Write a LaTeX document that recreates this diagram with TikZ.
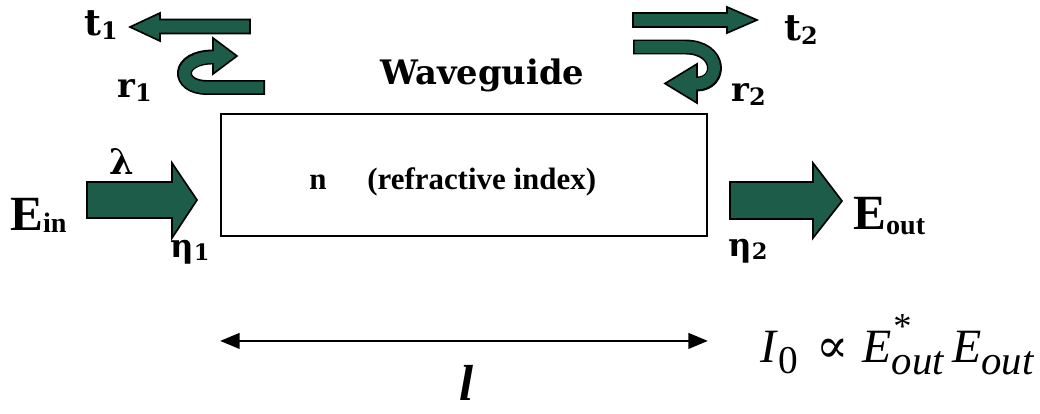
\documentclass[tikz,border=0pt]{standalone}
\usepackage{fontspec}
\setmainfont{Liberation Serif}
\newfontfamily\djv{DejaVu Serif}
\usetikzlibrary{arrows.meta}
\definecolor{wgreen}{RGB}{28,92,72}
\newcommand{\lowsub}[2]{\raisebox{-#1}{#2}}

\begin{document}
\begin{tikzpicture}[
    x=0.025cm, y=-0.025cm,
    fat/.style={draw=black, fill=wgreen, line width=1.2pt, line join=miter},
    bendout/.style={draw=black, line width=10.6pt},
    bendin/.style={draw=wgreen, line width=8.2pt, shorten <=1.2pt, shorten >=-1.5pt},
    wgbox/.style={draw, line width=1.3pt, minimum width=12.15cm, minimum height=3.05cm, inner sep=0pt},
    sch/.style={font=\djv\bfseries\fontsize{24}{26}\selectfont, inner sep=0pt},
    tms/.style={font=\bfseries\fontsize{22}{24}\selectfont, inner sep=0pt},
    field/.style={font=\bfseries\fontsize{35}{37}\selectfont, inner sep=0pt},
    dimarrow/.style={{Triangle[length=14pt,width=11pt]}-{Triangle[length=14pt,width=11pt]}, line width=2pt}
]
\useasboundingbox (0,0) rectangle (1040,414);
\fill[white] (0,0) rectangle (1040,414);

% the waveguide itself
\node[wgbox] (guide) at (464,175) {};
\node[sch, anchor=base west, font=\djv\bfseries\fontsize{24}{25}\selectfont] (wglabel) at (380,84) {Waveguide};
\node[tms, anchor=base west] (nidx) at (309,189) {n\hspace{29pt}(refractive index)};

% input / output fields
\draw[fat] (87,182) -- (172,182) -- (172,163) -- (197,200) -- (172,238) -- (172,218) -- (87,218) -- cycle;
\draw[fat] (730,182) -- (813,182) -- (813,163) -- (842,201) -- (813,238) -- (813,219) -- (730,219) -- cycle;
\node[field, anchor=base west] (ein) at (10,230) {E\lowsub{2pt}{\fontsize{20}{22}\selectfont in}};
\node[field, anchor=base west] (eout) at (853,229) {E\lowsub{4pt}{\fontsize{20}{22}\selectfont out}};
\node[sch, font=\djv\bfseries\fontsize{25}{26}\selectfont] (lam) at (122,162) {λ};
\node[sch, font=\djv\bfseries\fontsize{23}{24}\selectfont] (eta1) at (190,252) {η\lowsub{2pt}{\fontsize{16}{17}\selectfont 1}};
\node[sch, font=\djv\bfseries\fontsize{23}{24}\selectfont] (eta2) at (748,251) {η\lowsub{2pt}{\fontsize{16}{17}\selectfont 2}};

% transmitted
\draw[fat] (250,19.5) -- (160,19.5) -- (160,13) -- (130,27) -- (160,41) -- (160,33.5) -- (250,33.5) -- cycle;
\draw[fat] (633,13) -- (727,13) -- (727,7) -- (757,20) -- (727,33) -- (727,27) -- (633,27) -- cycle;
\node[sch, anchor=base west, font=\djv\bfseries\fontsize{26}{28}\selectfont] (t1) at (84,35) {t\lowsub{3pt}{\fontsize{17}{18}\selectfont 1}};
\node[sch, anchor=base west, font=\djv\bfseries\fontsize{26}{28}\selectfont] (t2) at (784,40) {t\lowsub{3pt}{\fontsize{17}{18}\selectfont 2}};

% reflected
\draw[bendout] (265,87.5) -- (207,87.5) .. controls (176,87.5) and (176,57) .. (213,57);
\draw[fat] (213,38) -- (237,56) -- (213,74) -- cycle;
\draw[bendin] (265,87.5) -- (207,87.5) .. controls (176,87.5) and (176,57) .. (213,57);
\draw[bendout] (633,47) -- (685,47) .. controls (722,47) and (722,84) .. (697,84);
\draw[fat] (697,64) -- (665,83.5) -- (697,103) -- cycle;
\draw[bendin] (633,47) -- (685,47) .. controls (722,47) and (722,84) .. (697,84);
\node[sch, anchor=base west] (r1) at (117,97) {r\lowsub{3pt}{\fontsize{17}{18}\selectfont 1}};
\node[sch, anchor=base west] (r2) at (731,101) {r\lowsub{3pt}{\fontsize{17}{18}\selectfont 2}};

% length and intensity
\path (guide.south west) ++(0,104) coordinate (lenL);
\path (guide.south east) ++(0,104) coordinate (lenR);
\draw[dimarrow] (lenL) -- (lenR);
\node[font=\bfseries\itshape\fontsize{36}{38}\selectfont, inner sep=0pt] (len) at (467,383) {l};
\node[anchor=base west, inner sep=0pt, font=\fontsize{34}{36}\selectfont] (intens) at (760,362)
    {\textit{I}\lowsub{8pt}{\fontsize{28}{29}\selectfont 0}\hspace{13pt}{\djv ∝}\hspace{10pt}\textit{E}\rlap{\raisebox{17pt}{\fontsize{26}{27}\selectfont\itshape *}}\lowsub{9pt}{\fontsize{29}{30}\selectfont\itshape out}\hspace{6pt}\textit{E}\lowsub{9pt}{\fontsize{29}{30}\selectfont\itshape out}};
\end{tikzpicture}
\end{document}
